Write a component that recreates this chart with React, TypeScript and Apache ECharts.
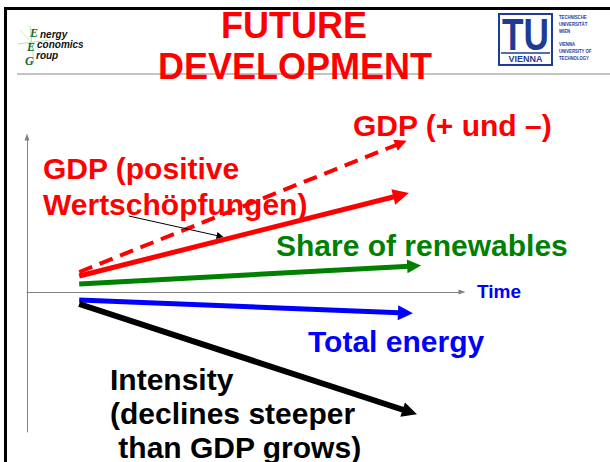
import React, { useEffect, useRef } from "react";
import * as echarts from "echarts";

// ---- data (conceptual trends over time) ----
const timeRange = [0, 100];
const levelRange = [-140, 155];
const trendNames = [
  "GDP (+ und –)",
  "GDP (positive Wertschöpfungen)",
  "Share of renewables",
  "Total energy",
  "Intensity",
];
const trendStart = [
  [12, 20],
  [12, 16],
  [12, 8],
  [12, -8],
  [12, -12],
];
const trendEnd = [
  [86, 149],
  [86, 97],
  [89, 26],
  [87, -21],
  [88, -120],
];
const pointerStart = [23.4, 76];
const pointerEnd = [44.4, 55.7];

// ---- styles ----
const trendColors = ["#ff0000", "#ff0000", "#008000", "#0000ff", "#000000"];
const trendWidths = [4, 5, 5, 5, 6];
const trendDash: any[] = [[14, 8], "solid", "solid", "solid", "solid"];
const arrowSizes = [
  [11, 12],
  [13, 16],
  [14, 14],
  [14, 15],
  [14, 15],
];

const SANS = '"Liberation Sans", Arial, sans-serif';

function txt(text: string, x: number, y: number, fill: string, font: string, align = "left", extra: any = {}, styleExtra: any = {}) {
  return {
    type: "text",
    x,
    y,
    z: 100,
    silent: true,
    ...extra,
    style: { text, fill, font, align, verticalAlign: "middle", ...styleExtra },
  };
}

export default function App() {
  const ref = useRef<HTMLDivElement>(null);
  useEffect(() => {
    if (!ref.current) return;
    const chart = echarts.init(ref.current, undefined, { renderer: "svg" });

    const series: any[] = trendNames.map((name, i) => ({
      type: "lines",
      name,
      coordinateSystem: "cartesian2d",
      silent: true,
      z: 10,
      symbol: ["none", "triangle"],
      symbolSize: arrowSizes[i],
      lineStyle: {
        color: trendColors[i],
        width: trendWidths[i],
        type: trendDash[i],
        opacity: 1,
        cap: "butt",
      },
      data: [{ coords: [trendStart[i], trendEnd[i]] }],
    }));
    series.push({
      type: "lines",
      name: "pointer",
      coordinateSystem: "cartesian2d",
      silent: true,
      z: 12,
      symbol: ["none", "triangle"],
      symbolSize: [6, 7],
      lineStyle: { color: "#000", width: 1, opacity: 1 },
      data: [{ coords: [pointerStart, pointerEnd] }],
    });

    const navy = "#1e3c96";
    const green = "#1b6b2a";
    const serifLogo = `italic bold 12px "Liberation Serif", serif`;
    const graphic: any[] = [
      // frame
      { type: "rect", shape: { x: 4, y: 7, width: 606, height: 3 }, style: { fill: "#000" }, silent: true },
      { type: "rect", shape: { x: 4, y: 7, width: 3, height: 455 }, style: { fill: "#000" }, silent: true },
      { type: "rect", shape: { x: 17, y: 73, width: 593, height: 2 }, style: { fill: "#c4c4c4" }, silent: true },
      // title
      txt("FUTURE", 294, 25, "#ff0000", `bold 36px ${SANS}`, "center"),
      txt("DEVELOPMENT", 295, 66, "#ff0000", `bold 36px ${SANS}`, "center"),
      // EEG logo
      { type: "line", shape: { x1: 18, y1: 44, x2: 50, y2: 40 }, style: { stroke: "#b9e3b0", lineWidth: 1 }, silent: true },
      { type: "line", shape: { x1: 30, y1: 26, x2: 34, y2: 64 }, style: { stroke: "#b9e3b0", lineWidth: 1 }, silent: true },
      { type: "line", shape: { x1: 20, y1: 30, x2: 46, y2: 58 }, style: { stroke: "#cdeac6", lineWidth: 1 }, silent: true },
      txt("E", 30, 33, green, serifLogo),
      txt("E", 27, 47, green, serifLogo),
      txt("G", 25, 61, green, serifLogo),
      txt("nergy", 40, 34, "#111", `italic bold 10px ${SANS}`),
      txt("conomics", 37, 44.5, "#111", `italic bold 10px ${SANS}`),
      txt("roup", 36, 55, "#111", `italic bold 10px ${SANS}`),
      // TU logo
      { type: "rect", shape: { x: 499, y: 14, width: 53, height: 51 }, style: { fill: "#fff", stroke: navy, lineWidth: 2 }, silent: true, z: 90 },
      txt("TU", 525.5, 35, navy, `bold 44px ${SANS}`, "center", { scaleX: 0.8 }),
      { type: "line", shape: { x1: 501, y1: 53, x2: 550, y2: 53 }, style: { stroke: navy, lineWidth: 1.5 }, silent: true, z: 95 },
      txt("VIENNA", 525.5, 59, navy, `bold 9px ${SANS}`, "center"),
      {
        type: "text",
        x: 559,
        y: 14,
        z: 100,
        silent: true,
        scaleX: 0.85,
        style: {
          text: "TECHNISCHE\nUNIVERSITÄT\nWIEN\n\nVIENNA\nUNIVERSITY OF\nTECHNOLOGY",
          fill: navy,
          font: `bold 5px ${SANS}`,
          lineHeight: 6.8,
          align: "left",
          verticalAlign: "top",
        },
      },
      // labels
      txt("GDP (+ und –)", 353, 125, "#ff0000", `bold 30px ${SANS}`),
      txt("GDP (positive", 43, 168, "#ff0000", `bold 30px ${SANS}`),
      txt("Wertschöpfungen)", 43, 204, "#ff0000", `bold 30px ${SANS}`),
      txt("Share of renewables", 276, 245, "#008000", `bold 30px ${SANS}`),
      txt("Time", 477, 291, "#0000ff", `bold 19px ${SANS}`),
      txt("Total energy", 308, 341, "#0000ff", `bold 30px ${SANS}`),
      txt("Intensity", 110, 379, "#000", `bold 30px ${SANS}`),
      txt("(declines steeper", 110, 413, "#000", `bold 30px ${SANS}`),
      txt(" than GDP grows)", 110, 447, "#000", `bold 30px ${SANS}`),
    ];

    const axisCommon = {
      type: "value",
      axisTick: { show: false },
      axisLabel: { show: false },
      splitLine: { show: false },
    };

    chart.setOption({
      animation: false,
      backgroundColor: "#fff",
      grid: { left: 27, right: 148, top: 137, bottom: 30, containLabel: false },
      xAxis: {
        ...axisCommon,
        min: timeRange[0],
        max: timeRange[1],
        axisLine: {
          show: true,
          onZero: true,
          symbol: ["none", "triangle"],
          symbolSize: [5, 7],
          lineStyle: { color: "#808080", width: 1 },
        },
      },
      yAxis: {
        ...axisCommon,
        min: levelRange[0],
        max: levelRange[1],
        axisLine: {
          show: true,
          onZero: true,
          symbol: ["none", "triangle"],
          symbolSize: [5, 7],
          lineStyle: { color: "#808080", width: 1 },
        },
      },
      series,
      graphic,
    });
    return () => chart.dispose();
  }, []);
  return (
    <div
      ref={ref}
      style={{ position: "absolute", left: 0, top: 0, width: 610, height: 462, background: "#fff" }}
    />
  );
}
